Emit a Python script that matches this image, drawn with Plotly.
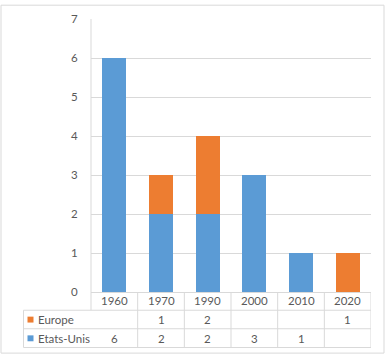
import plotly.graph_objects as go

categories = ["1960", "1970", "1990", "2000", "2010", "2020"]
series_names = ["Europe", "Etats-Unis"]
europe = [None, 1, 2, None, None, 1]
etats_unis = [6, 2, 2, 3, 1, None]
y_ticks = [0, 1, 2, 3, 4, 5, 6, 7]

BLUE = "#5B9BD5"
ORANGE = "#ED7D31"
GRID = "#D9D9D9"
TXT = "#595959"
FONT = "Lato"
FS = 11.5

W, H = 386, 356
L, R, T, B = 91, 15, 15, 64
pw, ph = W - L - R, H - T - B


def px(x):
    return (x - L) / pw


def py(y):
    return (H - B - y) / ph


fig = go.Figure()
fig.add_trace(go.Bar(x=categories, y=[v or 0 for v in etats_unis], name="Etats-Unis",
                     marker=dict(color=BLUE, line=dict(width=0))))
fig.add_trace(go.Bar(x=categories, y=[v or 0 for v in europe], name="Europe",
                     marker=dict(color=ORANGE, line=dict(width=0))))

shapes = []
annotations = []
# outer border
shapes.append(dict(type="rect", xref="paper", yref="paper", x0=px(1), x1=px(384), y0=py(354), y1=py(1),
                   line=dict(color=GRID, width=1), fillcolor="rgba(0,0,0,0)", layer="below"))
# left axis line
shapes.append(dict(type="line", xref="paper", yref="paper", x0=0, x1=0, y0=py(310.5), y1=1,
                   line=dict(color=GRID, width=1)))
# table horizontal lines
row_lines = [310.5, 329.3, 348.3]
for yl in row_lines:
    shapes.append(dict(type="line", xref="paper", yref="paper", x0=px(23.5), x1=1, y0=py(yl), y1=py(yl),
                       line=dict(color=GRID, width=1)))
# table vertical lines
n = len(categories)
for i in range(1, n + 1):
    xv = i - 0.5
    shapes.append(dict(type="line", xref="x", yref="paper", x0=xv, x1=xv, y0=py(348.3), y1=0,
                       line=dict(color=GRID, width=1)))
shapes.append(dict(type="line", xref="paper", yref="paper", x0=px(23.5), x1=px(23.5), y0=py(348.3), y1=py(310.5),
                   line=dict(color=GRID, width=1)))

# header (years)
for i, c in enumerate(categories):
    annotations.append(dict(x=i, y=py(301), xref="x", yref="paper", text=c, showarrow=False,
                            yanchor="middle", font=dict(family=FONT, size=FS, color=TXT)))
# rows
rows = [("Europe", europe, ORANGE, 320), ("Etats-Unis", etats_unis, BLUE, 339)]
for name, vals, col, yc in rows:
    shapes.append(dict(type="rect", xref="paper", yref="paper", x0=px(27.5), x1=px(33.5),
                       y0=py(yc + 3), y1=py(yc - 3), fillcolor=col, line=dict(width=0)))
    annotations.append(dict(x=px(35.5), y=py(yc), xref="paper", yref="paper", text=name, showarrow=False,
                            xanchor="left", yanchor="middle", font=dict(family=FONT, size=FS, color=TXT)))
    for i, v in enumerate(vals):
        if v is not None:
            annotations.append(dict(x=i, y=py(yc), xref="x", yref="paper", text=str(v), showarrow=False,
                                    yanchor="middle", font=dict(family=FONT, size=FS, color=TXT)))

fig.update_layout(
    width=W, height=H,
    margin=dict(l=L, r=R, t=T, b=B),
    barmode="stack", bargap=0.48,
    showlegend=False,
    paper_bgcolor="white", plot_bgcolor="white",
    font=dict(family=FONT, size=FS, color=TXT),
    xaxis=dict(type="category", showticklabels=False, showgrid=False, zeroline=False,
               showline=True, linecolor=GRID, linewidth=1, mirror=False, range=[-0.5, n - 0.5]),
    yaxis=dict(range=[0, 7], tickvals=y_ticks, showgrid=True, gridcolor=GRID, gridwidth=1,
               zeroline=False, showline=False, ticks="outside", ticklen=10, tickcolor="rgba(0,0,0,0)",
               tickfont=dict(family=FONT, size=FS, color=TXT)),
    shapes=shapes, annotations=annotations,
)

fig.write_html("out.html", config={"displayModeBar": False},
               post_script="document.body.style.margin='0';document.body.style.padding='0';")
